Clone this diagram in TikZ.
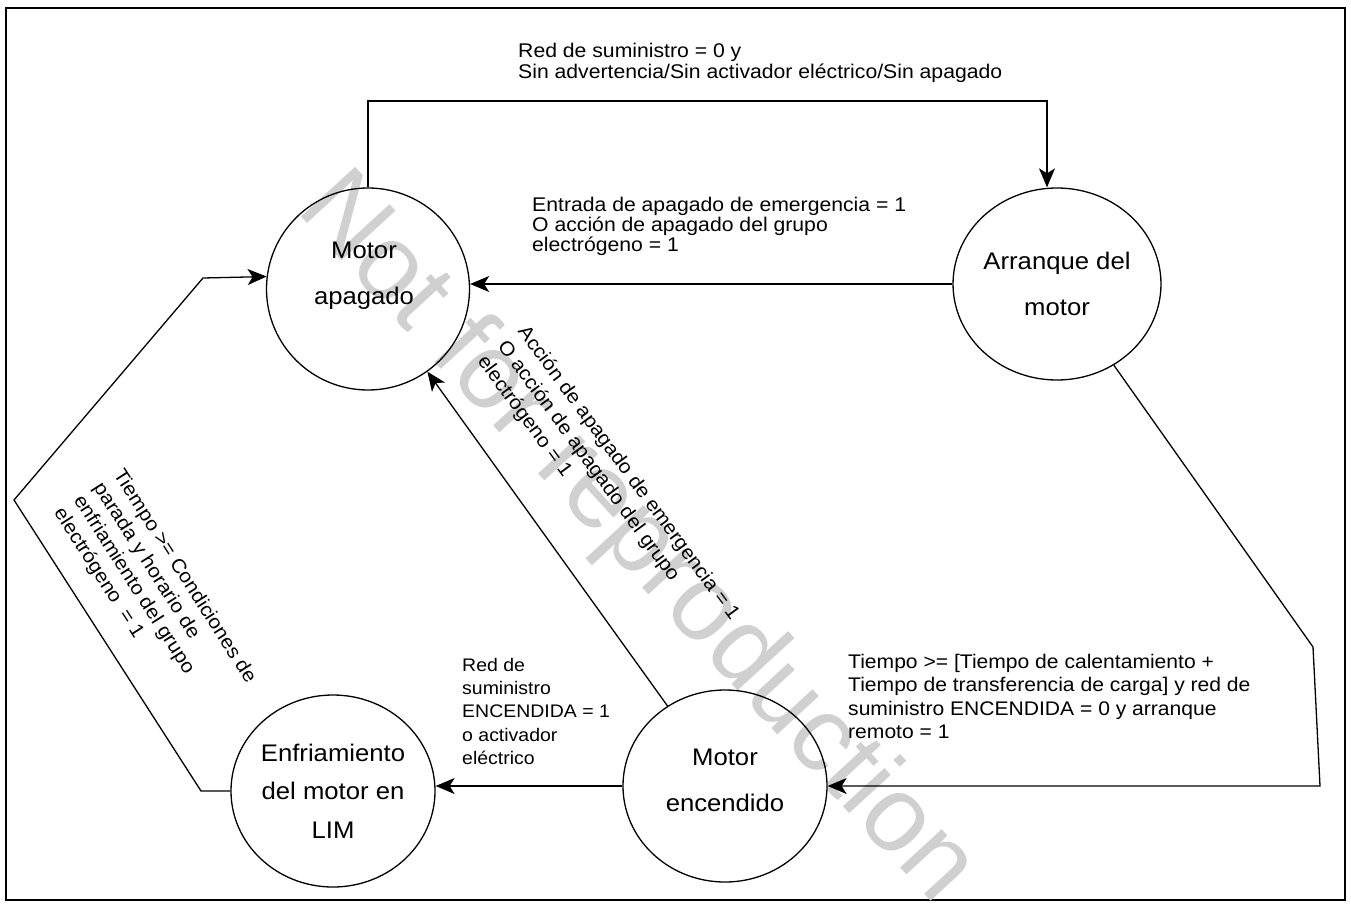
\documentclass[tikz,border=0pt]{standalone}
\usepackage{fontspec}
\setmainfont{Liberation Sans}[FakeStretch=1.07]
\newfontfamily\wmfont{Liberation Sans}
\usetikzlibrary{shapes.geometric,arrows.meta}
\definecolor{wmgray}{RGB}{208,208,208}

\begin{document}
\begin{tikzpicture}[x=1pt,y=-1pt,
    trans/.style={draw, line width=1.3pt, -{Stealth[length=19pt,width=16pt,inset=5pt]}},
    stext/.style={rectangle, draw=none, inner sep=0pt, align=center, font=\fontsize{24}{46}\selectfont},
    lbl/.style={inner sep=0pt, anchor=north west, align=left, font=\fontsize{19.8}{20.5}\selectfont}]

  \useasboundingbox (0,0) rectangle (1351,907);
  \draw[line width=2.4pt] (6,8) rectangle (1345,900);

  % watermark
  \node[wmgray, inner sep=0pt, font=\wmfont\fontsize{107}{107}\selectfont, rotate=-47.4] (wm) at (636,540) {Not for reproduction};

  \begin{scope}[every node/.style={ellipse, draw, line width=1.3pt, inner sep=0pt, align=center, font=\fontsize{24}{46}\selectfont}]
    \node[minimum width=203, minimum height=202, label={[stext, yshift=13pt, xshift=-4pt]center:Motor\\apagado}] (apag) at (368,289) {};
    \node[minimum width=205, minimum height=192] (arr) at (1057,284) {Arranque del\\motor};
    \node[minimum width=204, minimum height=192, label={[stext, yshift=6pt]center:Motor\\encendido}] (enc) at (725,786) {};
    \node[minimum width=204, minimum height=192, font=\fontsize{24}{38.3}\selectfont] (enf) at (333,791) {Enfriamiento\\del motor en\\LIM};
  \end{scope}

  \coordinate (top) at (1047,101);
  \coordinate (rb1) at (1313,647);
  \coordinate (rb2) at (1320,786);
  \coordinate (lb1) at (201,791);
  \coordinate (lb2) at (14,500);
  \coordinate (lb3) at (203,278);

  \begin{scope}[every path/.style={trans}]
    \path (apag.north) |- (top) -- (top |- arr.north);
    \path (arr.west) -- (arr.west -| apag.east);
    \path (enc) -- (apag);
    \path (arr.-55) -- (rb1) -- (rb2) -- (enc.east);
    \path (enc.west) -- (enc.west -| enf.east);
    \path (enf.west) -- (lb1) -- (lb2) -- (lb3) -- (apag.173.8);
  \end{scope}

  \node[lbl] (t1) at (518,43) {Red de suministro = 0 y\\Sin advertencia/Sin activador eléctrico/Sin apagado};
  \node[lbl, font=\fontsize{19.8}{20}\selectfont] (t2) at (532,197) {Entrada de apagado de emergencia = 1\\O acción de apagado del grupo\\electrógeno = 1};
  \node[lbl, font=\fontsize{19.6}{25}\selectfont, rotate=-53.6] (t3) at (529,323) {Acción de apagado de emergencia = 1\\O acción de apagado del grupo\\electrógeno = 1};
  \node[lbl, font=\fontsize{19.5}{23.5}\selectfont, rotate=-57.4] (t4) at (125,467) {Tiempo >= Condiciones de\\parada y horario de\\enfriamiento del grupo\\electrógeno~ = 1};
  \node[lbl, font=\fontsize{18.2}{23.3}\selectfont] (t5) at (462,658) {Red de\\suministro\\ENCENDIDA = 1\\o activador\\eléctrico};
  \node[lbl, font=\fontsize{19.7}{23.3}\selectfont] (t6) at (848,654) {Tiempo >= [Tiempo de calentamiento +\\Tiempo de transferencia de carga] y red de\\suministro ENCENDIDA = 0 y arranque\\remoto = 1};

\end{tikzpicture}
\end{document}
